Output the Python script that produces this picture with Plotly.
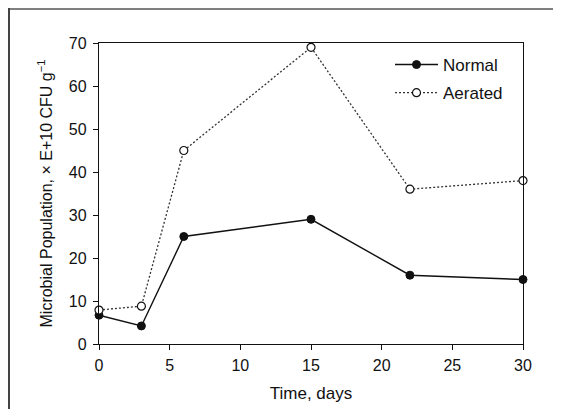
import plotly.graph_objects as go

days = [0, 3, 6, 15, 22, 30]
normal = [6.7, 4.2, 25.0, 29.0, 16.0, 15.0]
aerated = [7.9, 8.8, 45.0, 69.0, 36.0, 38.0]

x_ticks = [0, 5, 10, 15, 20, 25, 30]
y_ticks = [0, 10, 20, 30, 40, 50, 60, 70]

FONT = "Liberation Sans, Arial, sans-serif"

fig = go.Figure()
fig.add_trace(go.Scatter(
    x=days, y=normal, name="Normal", mode="lines+markers",
    line=dict(color="#111111", width=1.4),
    marker=dict(symbol="circle", size=8, color="#111111", line=dict(color="#111111", width=1)),
    cliponaxis=False, legendgroup="a"))
fig.add_trace(go.Scatter(
    x=days, y=aerated, name="Aerated", mode="lines+markers",
    line=dict(color="#333333", width=1.3, dash="2px,2px"),
    marker=dict(symbol="circle", size=8, color="white", line=dict(color="#111111", width=1.2)),
    cliponaxis=False, legendgroup="b"))

# figure size chosen so the page (with its 8px body margin) fits the window
FW, FH = 545, 401
# plot area in figure pixels
L, R, T, B = 91, 515, 35, 336
W, H = R - L, B - T
def px(x):
    return (x - L) / W
def py(y):
    return (B - y) / H

# outer frame: only top and left edges visible
fig.add_shape(type="line", xref="paper", yref="paper",
              x0=px(0), x1=px(FW), y0=py(1), y1=py(1),
              line=dict(color="#555555", width=1.5), layer="below")
fig.add_shape(type="line", xref="paper", yref="paper",
              x0=px(1), x1=px(1), y0=py(0), y1=py(FH),
              line=dict(color="#444444", width=2), layer="below")
# white strip over the right edge of the figure
fig.add_shape(type="rect", xref="paper", yref="paper",
              x0=px(FW - 5), x1=px(FW + 5), y0=py(FH + 5), y1=py(3),
              fillcolor="white", line=dict(width=0), layer="above")

fig.update_layout(
    width=FW, height=FH,
    margin=dict(l=L, r=FW - R, t=T, b=FH - B, pad=0),
    paper_bgcolor="white", plot_bgcolor="white",
    font=dict(family=FONT, size=16, color="#111111"),
    showlegend=True,
    legend=dict(x=px(382), y=py(39), xanchor="left", yanchor="top",
                bgcolor="rgba(0,0,0,0)", borderwidth=0,
                font=dict(size=17), tracegroupgap=3, itemwidth=43),
    xaxis=dict(range=[0, 30], tickvals=x_ticks, ticks="outside", ticklen=5,
               tickwidth=1, tickcolor="#111111", showline=True, linecolor="#111111",
               linewidth=1.3, mirror=True, showgrid=False, zeroline=False,
               tickfont=dict(size=16), ticklabelstandoff=2, automargin=False,
               title=dict(text="Time, days", font=dict(size=17), standoff=13)),
    yaxis=dict(range=[0, 70], tickvals=y_ticks, ticks="outside", ticklen=5,
               tickwidth=1, tickcolor="#111111", showline=True, linecolor="#111111",
               linewidth=1.3, mirror=True, showgrid=False, zeroline=False,
               tickfont=dict(size=16), ticklabelstandoff=3, automargin=False,
               title=dict(text="Microbial Population, × E+10 CFU g<sup>−1</sup>",
                          font=dict(size=16), standoff=12)),
)

fig.write_html("out.html")
